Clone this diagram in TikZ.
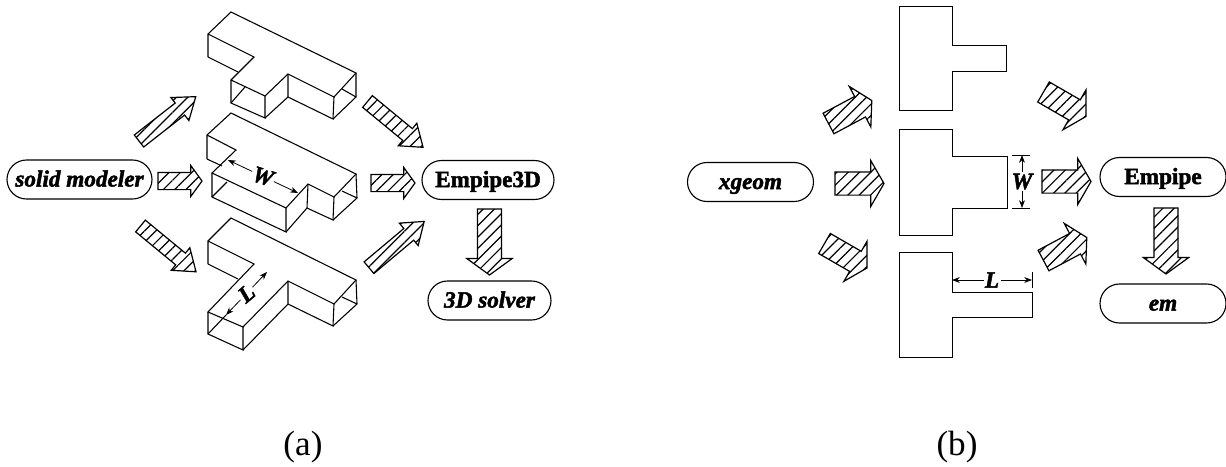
\documentclass[tikz,border=0pt]{standalone}
\usepackage{fontspec}
\setmainfont[BoldFeatures={FakeBold=2},BoldItalicFeatures={FakeBold=2}]{Liberation Serif}
\usetikzlibrary{arrows.meta,patterns.meta,shapes.arrows,shapes.misc}
\begin{document}
\begin{tikzpicture}
        [x=0.25mm, y=-0.25mm,
        pill/.style={rounded rectangle, draw, line width=0.28mm, minimum height=9.75mm, minimum width=31.5mm, inner sep=0pt, text height=11pt, text depth=1pt, font=\fontsize{16.5}{18}\selectfont\bfseries\itshape},
        pillbf/.style={pill, font=\fontsize{16.5}{18}\selectfont\bfseries},
        hatcharrow/.style={single arrow, draw, line width=0.3mm, anchor=tail, inner xsep=0pt, outer sep=0pt,
            pattern={Lines[angle=45, distance=2mm, line width=0.3mm]}},
        slimarrow/.style={hatcharrow, minimum height=18mm, inner ysep=1.75mm, single arrow head extend=1.75mm, single arrow tip angle=72},
        stubarrow/.style={hatcharrow, minimum height=11mm, inner ysep=2mm, single arrow head extend=1.75mm, single arrow tip angle=108},
        downarrow/.style={hatcharrow, minimum height=16.5mm, inner ysep=2.85mm, single arrow head extend=2.65mm, single arrow tip angle=108},
        widearrow/.style={hatcharrow, minimum height=12.25mm, inner ysep=2.75mm, single arrow head extend=2.85mm, single arrow tip angle=120},
        duct/.style={line width=0.27mm, line join=miter},
        plan/.style={line width=0.22mm, line join=miter},
        dimline/.style={line width=0.2mm, Stealth-Stealth},
        dimlabel/.style={fill=white, inner sep=1pt, font=\fontsize{16.5}{18}\selectfont\bfseries\itshape},
        tag/.style={font=\fontsize{25}{28}\selectfont}]
        \useasboundingbox (0,0) rectangle (1226,466);

        % (a) three ducts, top one first
        \draw[duct] (208,57) -- (208,34) -- (231,12) -- (356,73) -- (334,97) -- (288,74) -- (265,96) -- (231,80) -- (254,57) -- (208,34);
        \draw[duct] (208,57) -- (238,72);
        \draw[duct] (231,80) -- (231,103) -- (265,118) -- (265,96);
        \draw[duct] (265,118) -- (288,97) -- (288,74);
        \draw[duct] (288,97) -- (333,119) -- (334,97);
        \draw[duct] (333,119) -- (356,97) -- (356,73);
        \draw[duct] (231,103) -- (245,87);
        \draw[duct] (342,89) -- (356,97);

        \draw[duct] (207,159) -- (207,135) -- (231,113) -- (356,174) -- (334,197) -- (308,184) -- (286,208) -- (212,173) -- (236,150) -- (207,135);
        \draw[duct] (207,159) -- (222,166);
        \draw[duct] (212,173) -- (212,197) -- (286,232) -- (286,208);
        \draw[duct] (286,232) -- (307,208) -- (308,184);
        \draw[duct] (307,208) -- (333,220) -- (334,197);
        \draw[duct] (333,220) -- (357,198) -- (356,174);
        \draw[duct] (212,197) -- (227,182);
        \draw[duct] (342,191) -- (357,198);

        \draw[duct] (208,264) -- (208,241) -- (231,218) -- (356,280) -- (334,304) -- (288,281) -- (243,327) -- (208,312) -- (254,264) -- (208,241);
        \draw[duct] (208,264) -- (238,279);
        \draw[duct] (208,312) -- (208,334) -- (243,350) -- (243,327);
        \draw[duct] (243,350) -- (288,304) -- (288,281);
        \draw[duct] (288,304) -- (333,326) -- (334,304);
        \draw[duct] (333,326) -- (357,304) -- (356,280);
        \draw[duct] (208,334) -- (226,315);
        \draw[duct] (342,297) -- (357,304);

        % dimensions on the ducts
        \coordinate (wa1) at (228,160);
        \coordinate (wa2) at (298,193);
        \coordinate (la1) at (226,315);
        \coordinate (la2) at (267,272);
        \draw[dimline] (wa1) -- node[dimlabel, rotate=-18] (wa) {W} (wa2);
        \draw[dimline] (la1) -- node[dimlabel, rotate=40] (la) {L} (la2);

        % (a) tool boxes
        \node[pill, minimum width=36.25mm] (solid) at (79.5,179.5) {solid modeler};
        \node[pillbf, minimum width=33mm] (empipe3d) at (488,180) {Empipe3D};
        \node[pill, minimum width=30.75mm] (solver) at (489.5,300.5) {3D solver};

        % (a) hatched arrows
        \node[slimarrow, rotate=38] (a1) at (139,141) {};
        \node[stubarrow] (a2) at (158,181) {};
        \node[slimarrow, rotate=-39.5] (a3) at (140.5,226) {};
        \node[slimarrow, rotate=-39.5] (a4) at (367.5,101.5) {};
        \node[stubarrow] (a5) at (371,183) {};
        \node[slimarrow, rotate=40] (a6) at (369,267.7) {};
        \node[downarrow, rotate=-90] (a7) at (489.5,209) {};

        % (b) plan views
        \draw[plan] (899,6) -- (952,6) -- (952,45) -- (1006,45) -- (1006,71) -- (952,71) -- (952,110) -- (899,110) -- cycle;
        \draw[plan] (899,129) -- (952,129) -- (952,156) -- (1007,156) -- (1007,208) -- (952,208) -- (952,235) -- (899,235) -- cycle;
        \draw[plan] (899,252) -- (952,252) -- (952,292) -- (1032,292) -- (1032,317) -- (952,317) -- (952,357) -- (899,357) -- cycle;

        % dimensions on the plan views
        \coordinate (wb1) at (1022,155);
        \coordinate (wb2) at (1022,208);
        \coordinate (lb1) at (952,280);
        \coordinate (lb2) at (1032,280);
        \draw[dimline] (wb1) -- node[dimlabel] (wb) {W} (wb2);
        \draw[dimline] (lb1) -- node[dimlabel] (lb) {L} (lb2);
        \draw[line width=0.2mm] (1012,155) -- (1030,155);
        \draw[line width=0.2mm] (1012,208) -- (1030,208);
        \draw[line width=0.2mm] (1032,272) -- (1032,288);

        % (b) tool boxes
        \node[pill] (xgeom) at (750.5,182) {xgeom};
        \node[pillbf] (empipe) at (1163,177) {Empipe};
        \node[pill] (em) at (1163,303.5) {em};

        % (b) hatched arrows
        \node[widearrow, rotate=28] (b1) at (828.5,123.5) {};
        \node[widearrow] (b2) at (835,183.5) {};
        \node[widearrow, rotate=-30] (b3) at (824.5,243.5) {};
        \node[widearrow, rotate=-30] (b4) at (1043.5,92) {};
        \node[widearrow] (b5) at (1042,181.5) {};
        \node[widearrow, rotate=28] (b6) at (1043.5,260.5) {};
        \node[downarrow, rotate=-90] (b7) at (1166,208) {};

        % Labels under the two parts
        \node[tag] (taga) at (303,447) {(a)};
        \node[tag] (tagb) at (957,447) {(b)};
    \end{tikzpicture}
\end{document}
